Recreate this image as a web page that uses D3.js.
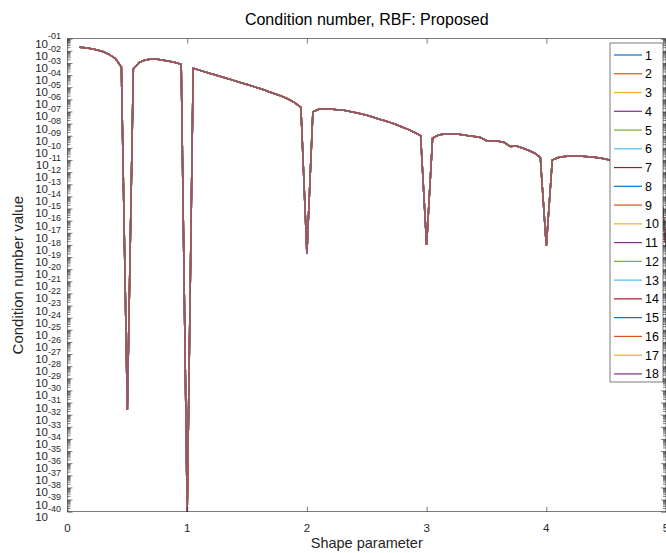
<!DOCTYPE html>
<html>
<head>
<meta charset="utf-8">
<script src="https://cdn.jsdelivr.net/npm/d3@7"></script>
<style>
  body { margin: 0; background: #fff; }
  svg { display: block; font-family: "Liberation Sans", Arial, sans-serif; }
</style>
</head>
<body>
<div id="chart"></div>
<script>
// shape parameter samples
var shapeParams = [0.10, 0.15, 0.20, 0.25, 0.30, 0.35, 0.40, 0.45, 0.50, 0.55,
  0.60, 0.65, 0.70, 0.75, 0.80, 0.85, 0.90, 0.95, 1.00, 1.05,
  1.10, 1.15, 1.20, 1.25, 1.30, 1.35, 1.40, 1.45, 1.50, 1.55,
  1.60, 1.65, 1.70, 1.75, 1.80, 1.85, 1.90, 1.95, 2.00, 2.05,
  2.10, 2.15, 2.20, 2.25, 2.30, 2.35, 2.40, 2.45, 2.50, 2.55,
  2.60, 2.65, 2.70, 2.75, 2.80, 2.85, 2.90, 2.95, 3.00, 3.05,
  3.10, 3.15, 3.20, 3.25, 3.30, 3.35, 3.40, 3.45, 3.50, 3.55,
  3.60, 3.65, 3.70, 3.75, 3.80, 3.85, 3.90, 3.95, 4.00, 4.05,
  4.10, 4.15, 4.20, 4.25, 4.30, 4.35, 4.40, 4.45, 4.50, 4.55,
  4.60, 4.65, 4.70, 4.75, 4.80, 4.85, 4.90, 4.95, 5.00];

// log10 of the condition number value (all 18 curves lie on top of each other)
var condLog10 = [-1.71, -1.75, -1.82, -1.93, -2.08, -2.31, -2.63, -3.33, -31.6, -3.50,
  -2.95, -2.76, -2.67, -2.70, -2.78, -2.86, -2.96, -3.11, -40.0, -3.44,
  -3.59, -3.74, -3.89, -4.03, -4.18, -4.33, -4.48, -4.63, -4.78, -4.93,
  -5.09, -5.25, -5.43, -5.60, -5.79, -6.01, -6.29, -6.67, -18.75, -7.02,
  -6.82, -6.77, -6.80, -6.86, -6.88, -6.99, -7.08, -7.19, -7.31, -7.45,
  -7.62, -7.76, -7.92, -8.10, -8.30, -8.50, -8.73, -8.98, -18.01, -9.19,
  -8.94, -8.86, -8.84, -8.86, -8.92, -9.01, -9.06, -9.14, -9.41, -9.41,
  -9.45, -9.56, -9.89, -9.85, -10.01, -10.20, -10.42, -10.78, -18.09, -11.00,
  -10.80, -10.71, -10.67, -10.67, -10.69, -10.73, -10.77, -10.84, -10.94, -11.04,
  -11.17, -11.29, -11.41, -11.58, -11.78, -12.03, -12.36, -12.81, -18.10];

var seriesNames = ["1", "2", "3", "4", "5", "6", "7", "8", "9", "10",
  "11", "12", "13", "14", "15", "16", "17", "18"];
var xTicks = [0, 1, 2, 3, 4, 5];
var yExponents = [-1, -2, -3, -4, -5, -6, -7, -8, -9, -10, -11, -12, -13, -14, -15, -16, -17, -18, -19, -20,
  -21, -22, -23, -24, -25, -26, -27, -28, -29, -30, -31, -32, -33, -34, -35, -36, -37, -38, -39, -40];
var palette = ["#0072BD", "#D95319", "#EDB120", "#7E2F8E", "#77AC30", "#4DBEEE", "#A2142F"];

(function() {
  var W = 666, H = 553;
  var m = { left: 67.5, right: 666, top: 38.7, bottom: 511.7 };
  var axisColor = "#262626";

  var svg = d3.select("#chart").append("svg").attr("width", W).attr("height", H);

  var x = d3.scaleLinear().domain([0, 5]).range([m.left, m.right]);
  var y = d3.scaleLog().domain([1e-40, 1e-1]).range([m.bottom, m.top]);

  var points = shapeParams.map(function(s, i) {
    return { s: s, v: Math.pow(10, condLog10[i]) };
  });

  svg.append("clipPath").attr("id", "plotclip").append("rect")
    .attr("x", m.left).attr("y", m.top).attr("width", m.right - m.left).attr("height", m.bottom - m.top);

  var line = d3.line().x(function(d) { return x(d.s); }).y(function(d) { return y(d.v); });

  // overlapping curves blend into one mauve line
  svg.append("g").attr("clip-path", "url(#plotclip)").selectAll("path.series")
    .data(seriesNames).enter().append("path")
    .attr("class", "series")
    .attr("d", line(points))
    .attr("fill", "none")
    .attr("stroke", function(d, i) { return palette[i % palette.length]; })
    .attr("stroke-opacity", 0.6)
    .attr("stroke-width", 1.5);

  // minor + major log ticks
  var majorVals = yExponents.map(function(e) { return Math.pow(10, e); });
  var minorVals = [];
  yExponents.forEach(function(e) {
    if (e === -1) return;
    [2, 3, 4, 5, 6, 7, 8, 9].forEach(function(k) { minorVals.push(k * Math.pow(10, e)); });
  });

  function styleAxis(g) {
    g.select(".domain").remove();
    g.selectAll(".tick line").attr("stroke", axisColor).attr("stroke-width", 0.6);
    g.selectAll(".tick text").remove();
  }

  svg.append("g").attr("transform", "translate(" + m.left + ",0)")
    .call(d3.axisLeft(y).tickValues(minorVals).tickSizeInner(-3).tickSizeOuter(0).tickFormat(""))
    .call(styleAxis);
  svg.append("g").attr("transform", "translate(" + m.left + ",0)")
    .call(d3.axisLeft(y).tickValues(majorVals).tickSizeInner(-5).tickSizeOuter(0).tickFormat(""))
    .call(styleAxis);
  svg.append("g").attr("transform", "translate(" + m.right + ",0)")
    .call(d3.axisRight(y).tickValues(minorVals).tickSizeInner(-3).tickSizeOuter(0).tickFormat(""))
    .call(styleAxis);
  svg.append("g").attr("transform", "translate(" + m.right + ",0)")
    .call(d3.axisRight(y).tickValues(majorVals).tickSizeInner(-5).tickSizeOuter(0).tickFormat(""))
    .call(styleAxis);
  svg.append("g").attr("transform", "translate(0," + m.bottom + ")")
    .call(d3.axisBottom(x).tickValues(xTicks).tickSizeInner(-5).tickSizeOuter(0).tickFormat(""))
    .call(styleAxis);
  svg.append("g").attr("transform", "translate(0," + m.top + ")")
    .call(d3.axisTop(x).tickValues(xTicks).tickSizeInner(-5).tickSizeOuter(0).tickFormat(""))
    .call(styleAxis);

  // box
  svg.append("rect").attr("x", m.left).attr("y", m.top)
    .attr("width", m.right - m.left).attr("height", m.bottom - m.top)
    .attr("fill", "none").attr("stroke", axisColor).attr("stroke-width", 0.6);

  // y tick labels 10^-NN
  var yl = svg.append("g").selectAll("text").data(yExponents).enter().append("text")
    .attr("x", 61)
    .attr("y", function(e) { return y(Math.pow(10, e)) + 9; })
    .attr("text-anchor", "end")
    .attr("fill", axisColor);
  yl.append("tspan").attr("font-size", "11.5px").text("10");
  yl.append("tspan").attr("font-size", "9px").attr("dy", -8.3)
    .text(function(e) { var n = Math.abs(e); return "-" + (n < 10 ? "0" + n : n); });

  // x tick labels
  svg.append("g").selectAll("text").data(xTicks).enter().append("text")
    .attr("x", function(d) { return x(d); })
    .attr("y", 531.7)
    .attr("text-anchor", "middle")
    .attr("font-size", "11.5px")
    .attr("fill", axisColor)
    .text(function(d) { return d; });

  svg.append("text").attr("x", (m.left + m.right) / 2).attr("y", 548)
    .attr("text-anchor", "middle").attr("font-size", "14.5px").attr("fill", axisColor)
    .text("Shape parameter");

  svg.append("text").attr("transform", "translate(23," + ((m.top + m.bottom) / 2) + ") rotate(-90)")
    .attr("text-anchor", "middle").attr("font-size", "15px").attr("fill", axisColor)
    .text("Condition number value");

  svg.append("text").attr("x", (m.left + m.right) / 2).attr("y", 24.5)
    .attr("text-anchor", "middle").attr("font-size", "16px").attr("fill", "#000")
    .text("Condition number, RBF: Proposed");

  // legend
  var lg = svg.append("g");
  lg.append("rect").attr("x", 610).attr("y", 43).attr("width", 53).attr("height", 339)
    .attr("fill", "#fff").attr("stroke", axisColor).attr("stroke-width", 0.6);
  var items = lg.selectAll("g.item").data(seriesNames).enter().append("g")
    .attr("class", "item")
    .attr("transform", function(d, i) { return "translate(0," + (55 + i * 18.76) + ")"; });
  items.append("line").attr("x1", 614).attr("x2", 642).attr("y1", 0).attr("y2", 0)
    .attr("stroke", function(d, i) { return palette[i % palette.length]; })
    .attr("stroke-width", 1.2);
  items.append("text").attr("x", 645).attr("y", 4.5)
    .attr("font-size", "12.5px").attr("fill", "#000")
    .text(function(d) { return d; });
})();
</script>
</body>
</html>
